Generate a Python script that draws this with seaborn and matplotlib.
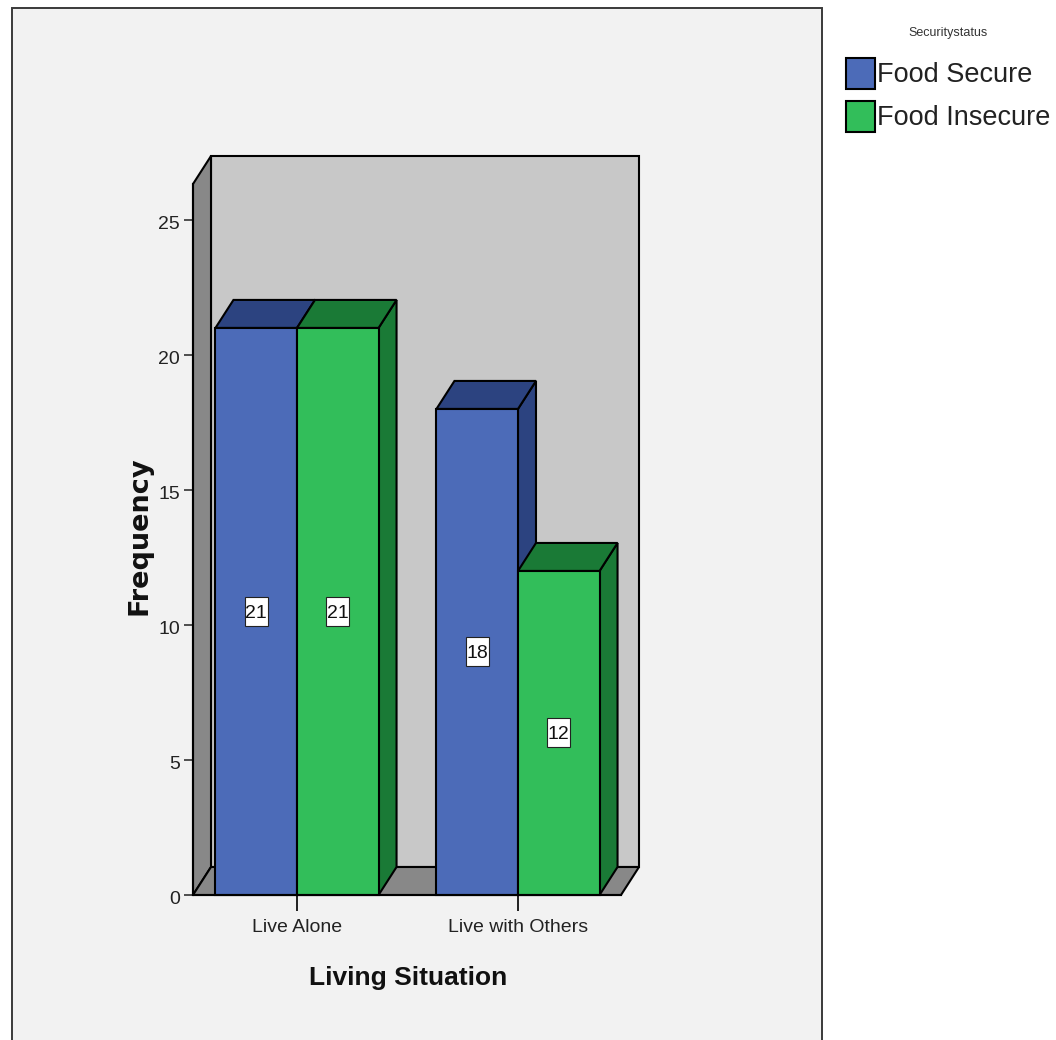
import matplotlib
matplotlib.use("Agg")
import matplotlib.pyplot as plt
from matplotlib.patches import Polygon, Rectangle
from matplotlib.transforms import ScaledTranslation
import pandas as pd
import seaborn as sns

# Survey counts by living situation and food security status
situations = ["Live Alone", "Live with Others"]
food_secure = [21, 18]
food_insecure = [21, 12]
status_names = ["Food Secure", "Food Insecure"]
y_ticks = [0, 5, 10, 15, 20, 25]

BLUE, GREEN = "#4C6BB8", "#32BE5A"
BLUE_DARK, GREEN_DARK = "#2C4380", "#1A7A36"
WALL_BACK, WALL_SIDE = "#C8C8C8", "#888888"
PANEL = "#F2F2F2"
SANS = ["Liberation Sans", "DejaVu Sans"]

sns.set_style("ticks")
plt.rcParams["font.family"] = SANS

W, H = 1056, 1040
fig = plt.figure(figsize=(W / 100, H / 100), dpi=100, facecolor="white")

# Chart panel, open past the lower edge of the figure
fig.add_artist(Rectangle((12 / W, -0.02), 810 / W, 1.02 - 8 / H, transform=fig.transFigure,
                         facecolor=PANEL, edgecolor="#3A3A3A", linewidth=1.4, zorder=0))

ax = fig.add_axes([193 / W, 1 - 895 / H, 428 / W, 711 / H], zorder=1)
ax.patch.set_visible(False)

df = pd.DataFrame({
    "situation": situations * 2,
    "status": [status_names[0]] * 2 + [status_names[1]] * 2,
    "count": food_secure + food_insecure,
})
sns.barplot(data=df, x="situation", y="count", hue="status", hue_order=status_names,
            palette=[BLUE, GREEN], saturation=1, width=0.738, edgecolor="black",
            linewidth=1.5, ax=ax)
handles, labels = ax.get_legend_handles_labels()
ax.get_legend().remove()

ax.set_xlim(-0.4706, 1.4661)
ax.set_ylim(0, 26.33)
x0, x1 = ax.get_xlim()
y0, y1 = ax.get_ylim()
x_per_px = (x1 - x0) / 428
y_per_px = (y1 - y0) / 711

# Depth of the pseudo-3D box, in data units
dx = 18 * x_per_px
dy = 28 * y_per_px


def face(points, color, z, lw=1.5):
    ax.add_patch(Polygon(points, closed=True, facecolor=color, edgecolor="black",
                         linewidth=lw, joinstyle="miter", clip_on=False, zorder=z))


# Back wall, left wall and floor
face([(x0 + dx, y0 + dy), (x1 + dx, y0 + dy), (x1 + dx, y1 + dy), (x0 + dx, y1 + dy)], WALL_BACK, 1)
face([(x0, y0), (x0 + dx, y0 + dy), (x0 + dx, y1 + dy), (x0, y1)], WALL_SIDE, 1.1)
face([(x0, y0), (x1, y0), (x1 + dx, y0 + dy), (x0 + dx, y0 + dy)], WALL_SIDE, 1.2)

# Extrude every bar; left-to-right order gives the correct overlap
bars = [b for b in ax.patches if isinstance(b, Rectangle)][:4]
bars = sorted(bars, key=lambda b: b.get_x())
for i, bar in enumerate(bars):
    left, right = bar.get_x(), bar.get_x() + bar.get_width()
    top = bar.get_height()
    mid = left + bar.get_width() / 2
    dark = BLUE_DARK if i % 2 == 0 else GREEN_DARK
    z = 2 + i
    face([(right, 0), (right + dx, dy), (right + dx, top + dy), (right, top)], dark, z)
    face([(left, top), (right, top), (right + dx, top + dy), (left + dx, top + dy)], dark, z + 0.1)
    bar.set_zorder(z + 0.2)
    bar.set_clip_on(False)
    # Value tag: tall white box with the count centred on the bar
    box_w, box_h = 23 * x_per_px, 29 * y_per_px
    ax.add_patch(Rectangle((mid - box_w / 2, top / 2 - box_h / 2), box_w, box_h, facecolor="white",
                           edgecolor="#222222", linewidth=0.8, zorder=8))
    ax.text(mid, top / 2, f"{top:.0f}", ha="center", va="center_baseline",
            fontsize=14, color="#111111", zorder=8.5)

sns.despine(ax=ax, top=True, right=True)
for side in ("left", "bottom"):
    ax.spines[side].set_linewidth(1.5)
    ax.spines[side].set_color("black")
    ax.spines[side].set_zorder(9)

ax.set_yticks(y_ticks)
ax.tick_params(axis="y", length=6.8, width=1.2, color="#333333", labelsize=14,
               labelcolor="#222222", pad=2.5)
ax.tick_params(axis="x", length=11.5, width=1.3, color="#111111", labelsize=14,
               labelcolor="#222222", pad=6)

# Numeric tick labels sit slightly below their ticks
nudge = ScaledTranslation(0, -3 / 100, fig.dpi_scale_trans)
for lab in ax.get_yticklabels():
    lab.set_transform(lab.get_transform() + nudge)

# Axis titles at fixed offsets from the plot box
ax.set_xlabel("")
ax.set_ylabel("")
ax.text(0.5 * (x0 + x1) + 0.005, y0 - 83 * y_per_px, "Living Situation", ha="center", va="center",
        fontsize=19, fontweight="bold", color="#111111", clip_on=False)
ax.text(x0 - 53 * x_per_px, 359 * y_per_px, "Frequency", rotation=90,
        ha="center", va="center", fontsize=19.5, fontweight="bold", family="DejaVu Sans",
        color="#111111", clip_on=False)

leg = fig.legend(handles, labels, title="Securitystatus", loc="upper left",
                 bbox_to_anchor=(846 / W, 1 - 27 / H), frameon=False, fontsize=19.5,
                 title_fontsize=9, handlelength=1.07, handleheight=1.39,
                 handletextpad=0.08, labelspacing=0.44, borderpad=0, borderaxespad=0,
                 labelcolor="#222222")
leg.get_title().set_color("#333333")
# Wider gap between the legend title and its entries
leg._legend_box.sep = 13.5

fig.savefig("out.png", dpi=100, facecolor="white")
